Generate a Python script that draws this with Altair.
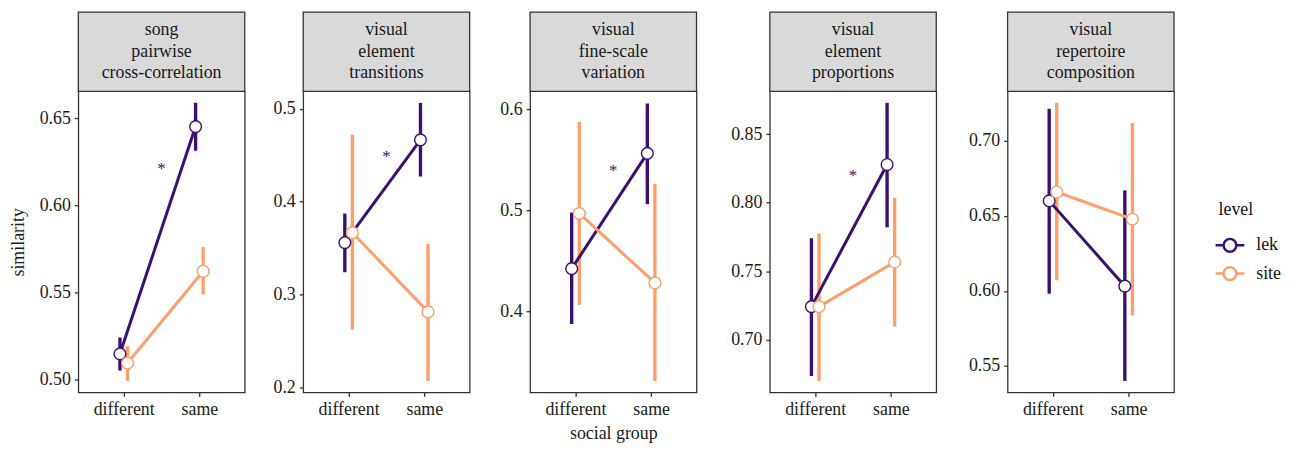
import altair as alt
import pandas as pd

FONT = "Liberation Serif"

groups = ["different", "same"]
levels = ["lek", "site"]
level_colors = ["#3b0f70", "#fd9f6c"]

headers = [
    "song\npairwise\ncross-correlation",
    "visual\nelement\ntransitions",
    "visual\nfine-scale\nvariation",
    "visual\nelement\nproportions",
    "visual\nrepertoire\ncomposition",
]

# order of values in each panel: lek-different, lek-same, site-different, site-same
means = [
    [0.5146, 0.6453, 0.5093, 0.5621],
    [0.3560, 0.4666, 0.3667, 0.2814],
    [0.4425, 0.5566, 0.4971, 0.4284],
    [0.7241, 0.8279, 0.7241, 0.7567],
    [0.6600, 0.6032, 0.6659, 0.6478],
]
lows = [
    [0.505, 0.6314, 0.499, 0.5488],
    [0.3241, 0.4272, 0.2622, 0.2071],
    [0.3877, 0.5063, 0.4066, 0.3314],
    [0.6734, 0.7820, 0.6698, 0.7096],
    [0.5982, 0.5401, 0.6071, 0.5836],
]
highs = [
    [0.524, 0.659, 0.519, 0.576],
    [0.3873, 0.5064, 0.472, 0.3547],
    [0.498, 0.6059, 0.5876, 0.5265],
    [0.774, 0.8729, 0.7776, 0.8037],
    [0.7213, 0.667, 0.7253, 0.7119],
]
star_y = [0.624, 0.453, 0.5435, 0.8228, None]

y_ticks = [
    [0.50, 0.55, 0.60, 0.65],
    [0.2, 0.3, 0.4, 0.5],
    [0.4, 0.5, 0.6],
    [0.70, 0.75, 0.80, 0.85],
    [0.55, 0.60, 0.65, 0.70],
]
y_formats = [".2f", ".1f", ".1f", ".2f", ".2f"]
y_domains = [
    [0.4924, 0.6656],
    [0.1947, 0.5189],
    [0.320, 0.618],
    [0.6614, 0.8814],
    [0.5324, 0.7330],
]

W = 168
H = 304
HEAD = 80
LH = 21.7
AXIS_EXT = [None, 33.4, 35.7, 48.6, 47.3]

color_enc = alt.Color(
    "level:N",
    scale=alt.Scale(domain=levels, range=level_colors),
    legend=alt.Legend(
        title="level",
        orient="none",
        legendX=1151,
        legendY=111,
        padding=0,
        symbolType="M-1.45,0L-0.65,0M0.65,0L1.45,0M-0.65,0A0.65,0.65 0 1,0 0.65,0A0.65,0.65 0 1,0 -0.65,0Z",
        symbolSize=400,
        symbolStrokeWidth=2.5,
        symbolFillColor="white",
        labelOffset=15,
        rowPadding=5.5,
        titlePadding=15,
        titleFontSize=18,
        titleFontWeight="normal",
        labelFontSize=18,
        titleFont=FONT,
        labelFont=FONT,
        titleColor="#111",
        labelColor="#111",
    ),
)

panels = []
for i in range(5):
    rows = []
    k = 0
    for lv in levels:
        for gi, g in enumerate(groups):
            rows.append({"level": lv, "group": g, "gx": gi + 1,
                         "mean": means[i][k], "lo": lows[i][k], "hi": highs[i][k]})
            k += 1
    df = pd.DataFrame(rows)

    xaxis = alt.Axis(
        values=[1, 2],
        labelExpr=f"datum.value == 1 ? '{groups[0]}' : '{groups[1]}'",
        grid=False, domain=False,
        title="social group" if i == 2 else None,
    )
    x_enc = alt.X("xpos:Q", scale=alt.Scale(domain=[0.4, 2.6], nice=False, zero=False), axis=xaxis)
    ykw = dict(values=y_ticks[i], format=y_formats[i], grid=False, domain=False,
               title="similarity" if i == 0 else None)
    if AXIS_EXT[i] is not None:
        ykw["minExtent"] = AXIS_EXT[i]
        ykw["maxExtent"] = AXIS_EXT[i]
    yaxis = alt.Axis(**ykw)
    y_scale = alt.Scale(domain=y_domains[i], nice=False, zero=False)

    base = alt.Chart(df).transform_calculate(
        xpos="datum.gx + (datum.level == 'lek' ? -0.05 : 0.05)"
    )
    rules = base.mark_rule(strokeWidth=3.4).encode(
        x=x_enc,
        y=alt.Y("lo:Q", scale=y_scale, axis=yaxis),
        y2="hi:Q",
        color=color_enc,
    )
    lines = base.mark_line(strokeWidth=3).encode(
        x=x_enc, y=alt.Y("mean:Q", scale=y_scale, axis=yaxis), color=color_enc, detail="level:N",
    )
    points = base.mark_point(filled=False, fill="white", fillOpacity=1, opacity=1,
                             size=140, strokeWidth=1.4).encode(
        x=x_enc, y=alt.Y("mean:Q", scale=y_scale, axis=yaxis), color=color_enc,
    )

    hdf = pd.DataFrame({"label": [headers[i]]})
    head_rect = alt.Chart(hdf).mark_rect(fill="#d9d9d9", stroke="#333333", strokeWidth=1.3).encode(
        x=alt.value(0), x2=alt.value(W), y=alt.value(-HEAD), y2=alt.value(0)
    )
    head_text = alt.Chart(hdf).mark_text(
        lineBreak="\n", fontSize=18, lineHeight=LH, baseline="middle", align="center",
        font=FONT, color="#1a1a1a",
    ).encode(x=alt.value(W / 2), y=alt.value(-HEAD / 2 - LH), text="label:N")

    layers = [rules, lines, points]
    if star_y[i] is not None:
        sdf = pd.DataFrame({"xpos": [1.5], "sy": [star_y[i]], "s": ["*"]})
        star = alt.Chart(sdf).mark_text(fontSize=17, font=FONT, color=level_colors[0],
                                        baseline="alphabetic", dy=10).encode(
            x=alt.X("xpos:Q", scale=alt.Scale(domain=[0.4, 2.6], nice=False, zero=False), axis=xaxis),
            y=alt.Y("sy:Q", scale=y_scale, axis=yaxis),
            text="s:N",
        )
        layers.append(star)
    layers += [head_rect, head_text]
    panels.append(alt.layer(*layers).properties(width=W, height=H))

chart = alt.hconcat(*panels, spacing=22).resolve_scale(
    x="independent", y="independent", color="shared"
).properties(
    padding={"left": 0, "top": 0, "right": 0, "bottom": 0}
).configure(
    font=FONT
).configure_view(
    stroke="#333333", strokeWidth=1.3
).configure_axis(
    labelFont=FONT, titleFont=FONT, labelFontSize=18, titleFontSize=18,
    titleFontWeight="normal", labelColor="#1a1a1a", titleColor="#1a1a1a",
    tickColor="#333333", tickWidth=1.3, tickSize=4, labelPadding=4,
).configure_axisY(titlePadding=12).configure_axisX(titlePadding=6)

chart.save("out.html", embed_options={"renderer": "svg", "actions": False})
